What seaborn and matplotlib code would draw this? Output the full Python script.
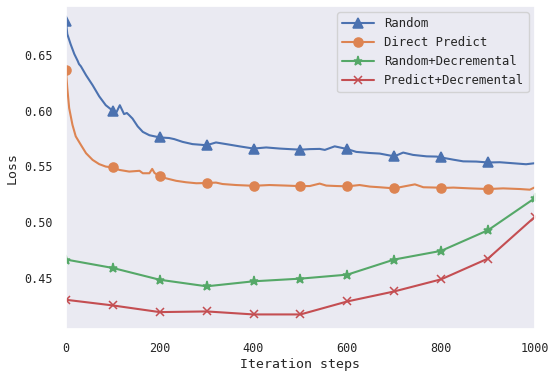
import numpy as np
import pandas as pd
import matplotlib
matplotlib.use('Agg')
import matplotlib.pyplot as plt
import seaborn as sns

# Random
random_steps = [0, 3, 10, 18, 25, 28, 32, 43, 57, 71, 85, 100, 107, 115, 124, 130, 135, 142,
                153, 164, 178, 200, 220, 231, 249, 270, 300, 320, 349, 370, 400, 427, 456,
                477, 500, 520, 541, 552, 573, 584, 600, 619, 648, 669, 700, 719, 740, 769,
                790, 800, 826, 847, 875, 900, 925, 953, 981, 999]
random_loss = [0.681, 0.669, 0.660, 0.651, 0.645, 0.642, 0.640, 0.632, 0.623, 0.613, 0.605,
               0.600, 0.598, 0.605, 0.597, 0.598, 0.596, 0.593, 0.586, 0.581, 0.578, 0.576,
               0.5755, 0.5745, 0.572, 0.570, 0.569, 0.5715, 0.5695, 0.568, 0.566, 0.567,
               0.566, 0.5655, 0.565, 0.5655, 0.5657, 0.5648, 0.568, 0.567, 0.5655, 0.563,
               0.562, 0.5615, 0.559, 0.5624, 0.5603, 0.559, 0.5588, 0.558, 0.556, 0.5545,
               0.5543, 0.5535, 0.5537, 0.5528, 0.5519, 0.5528]

# Direct Predict
direct_steps = [0, 3, 7, 14, 21, 32, 43, 57, 71, 85, 100, 114, 135, 157, 164, 178, 184, 189,
                200, 213, 235, 256, 278, 300, 320, 334, 363, 400, 434, 470, 500, 520, 541,
                555, 577, 600, 626, 648, 669, 700, 719, 744, 762, 790, 800, 826, 861, 900,
                932, 968, 989, 999]
direct_loss = [0.637, 0.6205, 0.6024, 0.5874, 0.577, 0.5693, 0.5618, 0.5558, 0.552, 0.5498,
               0.549, 0.5468, 0.5453, 0.546, 0.5438, 0.5438, 0.5477, 0.544, 0.5413, 0.5393,
               0.537, 0.5357, 0.5348, 0.535, 0.5354, 0.5341, 0.5332, 0.5325, 0.5332, 0.5327,
               0.5322, 0.5323, 0.5345, 0.5327, 0.5323, 0.532, 0.5332, 0.5318, 0.5312, 0.5302,
               0.5318, 0.5338, 0.5312, 0.5309, 0.5305, 0.5309, 0.5302, 0.5296, 0.5302,
               0.5296, 0.529, 0.531]

# Decremental variants, evaluated every 100 steps
dec_steps = [0, 100, 200, 300, 400, 500, 600, 700, 800, 900, 1000]
random_dec_loss = [0.4662, 0.4586, 0.448, 0.4421, 0.4466, 0.449, 0.4526, 0.4662, 0.474, 0.4926, 0.5215]
predict_dec_loss = [0.430, 0.4249, 0.4189, 0.4195, 0.4168, 0.4168, 0.4285, 0.4375, 0.4484, 0.4671, 0.5047]

sns.set_theme(style='darkgrid', rc={'axes.grid': False})
plt.rcParams['font.family'] = ['DejaVu Sans Mono']

colors = sns.color_palette('deep')

fig, ax = plt.subplots(figsize=(5.49, 3.77), dpi=100)

def every100(steps):
    return [i for i, s in enumerate(steps) if s % 100 == 0 and s < 1000]

series = [
    ('Random', random_steps, random_loss, '^', colors[0], every100(random_steps), 6.5),
    ('Direct Predict', direct_steps, direct_loss, 'o', colors[1], every100(direct_steps), 6.5),
    ('Random+Decremental', dec_steps, random_dec_loss, '*', colors[2], None, 6.5),
    ('Predict+Decremental', dec_steps, predict_dec_loss, 'x', colors[3], None, 6),
]

for name, xs, ys, mk, c, me, ms in series:
    df = pd.DataFrame({'step': xs, 'loss': ys})
    sns.lineplot(data=df, x='step', y='loss', ax=ax, color=c, marker=mk, markevery=me,
                 markersize=ms, markeredgecolor=c, markerfacecolor=c, markeredgewidth=1.1,
                 linewidth=1.5, label=name, estimator=None)

ax.set_xlim(0, 1000)
ax.set_xticks([0, 200, 400, 600, 800, 1000])
ax.set_yticks([0.45, 0.50, 0.55, 0.60, 0.65])
ax.set_yticklabels(['0.45', '0.50', '0.55', '0.60', '0.65'])
ax.tick_params(labelsize=8.5)
ax.set_xlabel('Iteration steps', fontsize=9.5, labelpad=2)
ax.set_ylabel('Loss', fontsize=9.5)

leg = ax.legend(loc='upper right', fontsize=8.8, handlelength=2.6, frameon=True)
leg.get_frame().set_facecolor('#EAEAF2')
leg.get_frame().set_edgecolor('#CCCCCC')

plt.subplots_adjust(left=0.120, right=0.9745, bottom=0.127, top=0.984)
plt.savefig('out.png', dpi=100)
